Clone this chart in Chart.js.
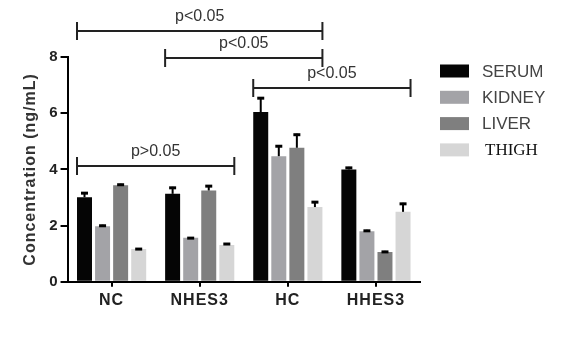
<!DOCTYPE html>
<html>
<head>
<meta charset="utf-8">
<script src="https://cdn.jsdelivr.net/npm/chart.js@4"></script>
<style>
  html, body { margin: 0; padding: 0; background: #fff; }
  #wrap { width: 568px; height: 341px; }
</style>
</head>
<body>
<div id="wrap"><canvas id="chart"></canvas></div>
<script>
const groups = ["NC", "NHES3", "HC", "HHES3"];

const serum = [3.01, 3.13, 6.04, 4.0];
const serumErr = [0.18, 0.25, 0.53, 0.09];
const kidney = [1.98, 1.57, 4.47, 1.8];
const kidneyErr = [0.05, 0.02, 0.39, 0.05];
const liver = [3.44, 3.25, 4.77, 1.06];
const liverErr = [0.05, 0.19, 0.5, 0.04];
const thigh = [1.17, 1.31, 2.66, 2.49];
const thighErr = [0.03, 0.07, 0.21, 0.32];

// significance brackets: first group, last group, height on the y scale
const brackets = [
  { from: 0, to: 2, level: 8.93, text: "p<0.05" },
  { from: 1, to: 2, level: 7.97, text: "p<0.05" },
  { from: 2, to: 3, level: 6.88, text: "p<0.05" },
  { from: 0, to: 1, level: 4.12, text: "p>0.05" },
];

const FONT = "'Liberation Sans', Arial, sans-serif";

// the picture's text is a little spaced out
const spacing = {
  id: "spacing",
  beforeDraw(chart) {
    chart.ctx.letterSpacing = "1px";
  },
};

const errorBars = {
  id: "errorBars",
  afterDatasetsDraw(chart) {
    const ctx = chart.ctx;
    const y = chart.scales.y;
    ctx.save();
    ctx.letterSpacing = "0px";
    ctx.strokeStyle = "#000";
    chart.data.datasets.forEach((ds, i) => {
      const meta = chart.getDatasetMeta(i);
      meta.data.forEach((bar, j) => {
        const top = y.getPixelForValue(ds.data[j] + ds.err[j]);
        ctx.lineWidth = 2;
        ctx.beginPath();
        ctx.moveTo(bar.x, bar.y);
        ctx.lineTo(bar.x, top);
        ctx.stroke();
        ctx.lineWidth = 3;
        ctx.beginPath();
        ctx.moveTo(bar.x - 3.5, top + 1);
        ctx.lineTo(bar.x + 3.5, top + 1);
        ctx.stroke();
      });
    });
    ctx.restore();
  },
};

const sigBrackets = {
  id: "sigBrackets",
  afterDraw(chart) {
    const ctx = chart.ctx;
    const y = chart.scales.y;
    const first = chart.getDatasetMeta(0);
    const last = chart.getDatasetMeta(chart.data.datasets.length - 1);
    ctx.save();
    ctx.letterSpacing = "0px";
    ctx.strokeStyle = "#222";
    ctx.fillStyle = "#333";
    ctx.lineWidth = 2;
    ctx.font = "16px " + FONT;
    ctx.textAlign = "center";
    ctx.textBaseline = "middle";
    brackets.forEach((b) => {
      const a = first.data[b.from];
      const z = last.data[b.to];
      const x0 = a.x - a.width / 2;
      const x1 = z.x + z.width / 2;
      const py = Math.round(y.getPixelForValue(b.level));
      ctx.beginPath();
      ctx.moveTo(x0, py);
      ctx.lineTo(x1, py);
      ctx.moveTo(x0, py - 9);
      ctx.lineTo(x0, py + 9);
      ctx.moveTo(x1, py - 9);
      ctx.lineTo(x1, py + 9);
      ctx.stroke();
      ctx.fillText(b.text, (x0 + x1) / 2, py - 14);
    });
    ctx.restore();
  },
};

const sideLegend = {
  id: "sideLegend",
  afterDraw(chart) {
    const ctx = chart.ctx;
    ctx.save();
    ctx.letterSpacing = "0px";
    ctx.textBaseline = "middle";
    chart.data.datasets.forEach((ds, i) => {
      const cy = 71 + i * 26.3;
      ctx.fillStyle = ds.backgroundColor;
      ctx.fillRect(440, cy - 6.5, 29, 13);
      if (ds.serif) {
        ctx.font = "17px 'Liberation Serif', 'Times New Roman', serif";
        ctx.fillStyle = "#111";
        ctx.fillText(ds.label, 485, cy + 1);
      } else {
        ctx.font = "17px " + FONT;
        ctx.fillStyle = "#444";
        ctx.fillText(ds.label, 482, cy + 1);
      }
    });
    ctx.restore();
  },
};

new Chart(document.getElementById("chart"), {
  type: "bar",
  data: {
    labels: groups,
    datasets: [
      { label: "SERUM", data: serum, err: serumErr, backgroundColor: "#050505" },
      { label: "KIDNEY", data: kidney, err: kidneyErr, backgroundColor: "#a3a3a7" },
      { label: "LIVER", data: liver, err: liverErr, backgroundColor: "#7f7f7f" },
      { label: "THIGH", data: thigh, err: thighErr, backgroundColor: "#d6d6d6", serif: true },
    ],
  },
  options: {
    responsive: true,
    maintainAspectRatio: false,
    animation: false,
    categoryPercentage: 0.82,
    barPercentage: 0.83,
    layout: { padding: { left: 17, top: 57, right: 148, bottom: 27 } },
    plugins: {
      legend: { display: false },
      tooltip: { enabled: false },
    },
    scales: {
      x: {
        grid: {
          offset: false,
          drawOnChartArea: false,
          tickLength: 5,
          color: "#000",
          lineWidth: 2,
        },
        border: { color: "#000", width: 2 },
        ticks: {
          color: "#222",
          padding: 4,
          font: { family: FONT, size: 16, weight: "bold" },
        },
      },
      y: {
        min: 0,
        max: 8,
        grid: {
          drawOnChartArea: false,
          tickLength: 7,
          color: "#000",
          lineWidth: 2,
        },
        border: { color: "#000", width: 2 },
        ticks: {
          stepSize: 2,
          color: "#222",
          padding: 2,
          font: { family: FONT, size: 15, weight: "bold" },
        },
        title: {
          display: true,
          text: "Concentration (ng/mL)",
          color: "#333",
          padding: { top: 4, bottom: 8 },
          font: { family: FONT, size: 16, weight: "bold" },
        },
      },
    },
  },
  plugins: [spacing, errorBars, sigBrackets, sideLegend],
});
</script>
</body>
</html>
